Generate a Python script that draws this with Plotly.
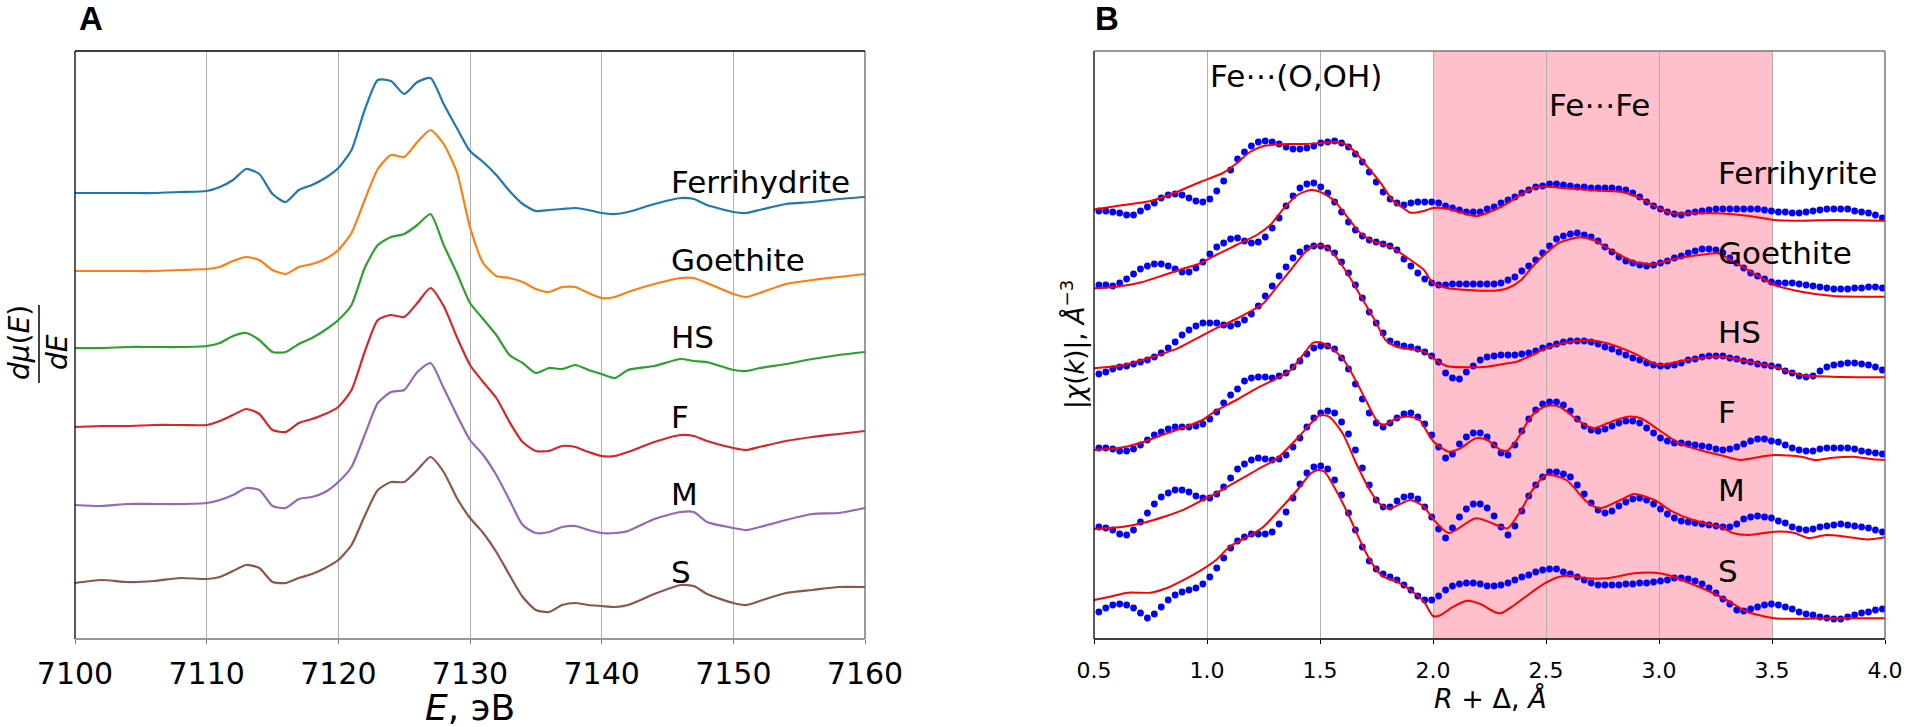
import numpy as np
import plotly.graph_objects as go

# ---------------- Panel A : derivative XANES (arbitrary units, stacked) ----------------
E_eV = [7100, 7102, 7104, 7106, 7108, 7110, 7111, 7112, 7113, 7114, 7115, 7116, 7117, 7118,
        7119, 7120, 7121, 7122, 7123, 7124, 7125, 7126, 7127, 7128, 7129, 7130, 7131, 7132,
        7133, 7134, 7135, 7136, 7137, 7138, 7139, 7140, 7141, 7142, 7144, 7146, 7147, 7148,
        7150, 7151, 7152, 7154, 7156, 7158, 7160]

dmu_ferrihydrite = [446, 446, 446, 446, 447, 448, 452, 459, 470, 465, 445, 437, 449, 454, 461, 471,
                    489, 529, 559, 558, 545, 557, 561, 535, 511, 488, 477, 464, 448, 435, 428, 429,
                    430, 431, 429, 426, 425, 427, 435, 441, 440, 434, 427, 426, 429, 435, 437, 440, 442]
dmu_goethite = [368, 368, 368, 368, 369, 370, 372, 378, 382, 379, 369, 365, 372, 375, 380, 389,
                406, 439, 470, 484, 482, 497, 509, 495, 467, 412, 376, 363, 361, 357, 350, 347,
                352, 352, 346, 341, 342, 347, 355, 361, 361, 356, 345, 342, 346, 355, 359, 362, 365]
dmu_hs = [291, 291, 292, 292, 292, 293, 296, 303, 306, 299, 287, 287, 295, 301, 309, 319,
          334, 371, 394, 402, 405, 414, 425, 394, 366, 336, 320, 304, 284, 276, 266, 271,
          270, 274, 269, 265, 261, 269, 273, 280, 278, 277, 269, 268, 271, 275, 280, 284, 287]
dmu_f = [212, 213, 213, 214, 214, 214, 218, 224, 230, 225, 209, 207, 216, 220, 225, 232,
         249, 287, 319, 324, 322, 336, 351, 333, 302, 274, 257, 241, 217, 197, 188, 188,
         193, 192, 187, 183, 183, 187, 197, 204, 203, 198, 191, 189, 192, 198, 202, 205, 208]
dmu_m = [134, 133, 135, 135, 135, 136, 139, 144, 151, 149, 133, 131, 140, 142, 147, 157,
         172, 204, 236, 247, 249, 267, 276, 251, 224, 199, 184, 164, 139, 114, 106, 107,
         112, 113, 109, 106, 106, 108, 120, 127, 127, 117, 111, 109, 112, 119, 125, 126, 131]
dmu_s = [56, 59, 57, 58, 61, 60, 62, 68, 74, 71, 57, 56, 61, 65, 71, 79,
         94, 123, 149, 157, 157, 169, 182, 167, 141, 121, 106, 87, 64, 42, 29, 27,
         34, 36, 34, 33, 32, 34, 45, 54, 53, 45, 36, 34, 38, 46, 49, 52, 52]

names_A = ["Ferrihydrite", "Goethite", "HS", "F", "M", "S"]
series_A = [dmu_ferrihydrite, dmu_goethite, dmu_hs, dmu_f, dmu_m, dmu_s]
colors_A = ["#1f77b4", "#ff7f0e", "#2ca02c", "#d62728", "#9467bd", "#8c564b"]
label_y_A = [457, 379, 302, 222, 145, 67]
ticks_A = [7100, 7110, 7120, 7130, 7140, 7150, 7160]

# ---------------- Panel B : |chi(R)| data (dots) and fits (lines) ----------------
R_grid = np.arange(17, 131) * np.pi / 102.4   # standard FT R-grid

chi_ferrihyrite = [428, 428, 427, 426, 424, 424, 428, 432, 436, 441,
                   444, 445, 444, 441, 438, 437, 440, 448, 458, 469,
                   480, 487, 493, 497, 498, 497, 495, 492, 490, 490,
                   491, 493, 496, 497, 498, 496, 492, 485, 477, 467,
                   457, 447, 440, 436, 434, 436, 437, 437, 437, 436,
                   433, 431, 429, 427, 427, 427, 430, 432, 436, 439,
                   442, 446, 449, 452, 453, 455, 455, 454, 453, 452,
                   452, 451, 451, 451, 451, 450, 449, 446, 442, 437,
                   433, 430, 427, 425, 424, 426, 427, 428, 429, 430,
                   430, 430, 430, 430, 430, 430, 429, 428, 427, 427,
                   426, 426, 427, 428, 429, 430, 430, 430, 430, 428,
                   427, 426, 424, 421]
chi_goethite = [354, 354, 353, 356, 360, 365, 370, 373, 375, 375,
                373, 370, 367, 367, 371, 377, 385, 392, 396, 400,
                401, 398, 396, 397, 402, 411, 421, 433, 443, 451,
                455, 456, 452, 446, 437, 427, 417, 409, 403, 399,
                397, 395, 393, 389, 380, 373, 366, 360, 356, 354,
                354, 355, 355, 355, 355, 355, 355, 355, 356, 359,
                362, 368, 373, 379, 386, 393, 400, 403, 405, 406,
                404, 402, 398, 392, 387, 382, 378, 376, 374, 373,
                374, 376, 378, 381, 383, 386, 388, 390, 390, 389,
                386, 381, 376, 371, 366, 363, 360, 357, 356, 356,
                356, 355, 354, 353, 352, 351, 350, 350, 350, 351,
                351, 352, 352, 351]
chi_hs = [265, 267, 270, 272, 273, 275, 277, 279, 282, 286,
          291, 297, 304, 309, 313, 316, 316, 316, 314, 313,
          315, 319, 325, 333, 343, 353, 363, 372, 381, 387,
          391, 393, 393, 391, 386, 377, 366, 354, 341, 327,
          316, 306, 298, 295, 293, 292, 290, 287, 283, 277,
          266, 261, 260, 267, 273, 279, 282, 283, 284, 284,
          284, 285, 286, 288, 291, 293, 295, 297, 298, 298,
          298, 297, 295, 292, 290, 287, 284, 281, 279, 276,
          274, 273, 273, 274, 276, 279, 280, 282, 283, 283,
          283, 281, 280, 278, 277, 275, 274, 273, 272, 268,
          266, 263, 262, 263, 268, 272, 274, 275, 276, 276,
          275, 274, 272, 269]
chi_f = [191, 191, 190, 188, 188, 190, 194, 199, 204, 207,
         210, 212, 212, 212, 213, 215, 220, 227, 236, 244,
         250, 258, 261, 262, 262, 261, 263, 266, 272, 278,
         285, 291, 293, 293, 290, 281, 270, 255, 240, 226,
         216, 212, 216, 221, 225, 226, 222, 215, 204, 192,
         181, 185, 195, 202, 206, 206, 202, 194, 186, 184,
         194, 208, 220, 229, 235, 237, 237, 234, 228, 220,
         213, 209, 208, 210, 213, 216, 218, 218, 216, 211,
         206, 201, 198, 196, 196, 195, 194, 193, 192, 190,
         189, 190, 192, 195, 198, 200, 200, 198, 197, 194,
         191, 189, 188, 188, 190, 191, 191, 191, 191, 190,
         188, 187, 186, 185]
chi_m = [112, 111, 109, 105, 104, 109, 117, 126, 135, 142,
         146, 149, 149, 147, 143, 141, 141, 145, 152, 161,
         170, 175, 179, 181, 180, 179, 180, 184, 192, 201,
         212, 221, 226, 228, 226, 217, 205, 189, 171, 154,
         139, 132, 132, 138, 142, 143, 140, 132, 122, 110,
         101, 111, 122, 130, 135, 135, 131, 123, 112, 104,
         113, 128, 143, 154, 162, 167, 167, 165, 162, 154,
         145, 136, 129, 126, 128, 133, 137, 140, 141, 139,
         135, 130, 125, 121, 118, 117, 116, 115, 114, 113,
         112, 112, 115, 120, 122, 123, 122, 121, 118, 116,
         112, 110, 109, 110, 112, 113, 114, 115, 114, 113,
         112, 111, 109, 107]
chi_s = [27, 31, 34, 35, 34, 31, 26, 21, 25, 32,
         39, 44, 47, 49, 51, 55, 62, 71, 81, 91,
         98, 102, 105, 105, 105, 107, 115, 127, 141, 155,
         166, 172, 173, 170, 159, 144, 126, 109, 92, 78,
         70, 65, 62, 59, 54, 49, 43, 39, 39, 43,
         49, 53, 55, 56, 56, 55, 53, 53, 54, 56,
         59, 62, 64, 67, 69, 70, 70, 67, 65, 62,
         59, 56, 54, 54, 54, 54, 55, 55, 56, 56,
         57, 58, 59, 61, 61, 60, 58, 55, 51, 46,
         40, 35, 29, 28, 30, 32, 34, 35, 34, 32,
         30, 27, 25, 24, 22, 21, 20, 20, 22, 24,
         26, 27, 29, 30]

fit_r_ferrihyrite = [0.5, 0.63, 0.75, 0.85, 0.97, 1.07, 1.13, 1.19, 1.25, 1.31, 1.37, 1.44, 1.52, 1.57,
                     1.62, 1.66, 1.71, 1.77, 1.82, 1.87, 1.9, 1.96, 2.0, 2.07, 2.19, 2.3, 2.44, 2.5,
                     2.59, 2.74, 2.83, 2.92, 3.0, 3.06, 3.14, 3.26, 3.4, 3.51, 3.63, 3.77, 4.0]
fit_ferrihyrite = [429.5, 434, 438, 445.5, 457, 466, 475.5, 487, 493, 494.5, 495, 495, 496.3, 497,
                   494, 485.7, 472.3, 455.7, 439, 430.7, 426.3, 428, 431, 430, 423, 432, 450.7, 452.3,
                   450.7, 448.3, 447.3, 440.7, 430.7, 425.7, 425.7, 425.7, 423, 419, 418.3, 419, 418.3]
fit_r_goethite = [0.5, 0.6, 0.71, 0.81, 0.9, 0.97, 1.04, 1.13, 1.22, 1.28, 1.34, 1.4, 1.46, 1.5, 1.56,
                  1.62, 1.68, 1.74, 1.81, 1.88, 1.96, 2.0, 2.07, 2.15, 2.27, 2.33, 2.39, 2.44, 2.5,
                  2.56, 2.65, 2.71, 2.8, 2.89, 2.98, 3.06, 3.18, 3.26, 3.33, 3.42, 3.51, 3.63, 3.77, 4.0]
fit_goethite = [350.7, 352.3, 356.7, 364, 370.7, 375.7, 384, 394, 404, 414, 430.7, 444, 449, 447.3, 439,
                422.3, 405.7, 397.3, 392.3, 382.3, 369, 356, 350.7, 349, 348.3, 350.7, 359, 372.3, 385.7,
                396.3, 401.7, 399, 387.3, 377.3, 375, 379.7, 384, 385.7, 377.3, 365.7, 354, 347.3, 343, 342.3]
fit_r_hs = [0.5, 0.63, 0.75, 0.87, 0.97, 1.04, 1.12, 1.19, 1.25, 1.31, 1.37, 1.43, 1.47, 1.52, 1.57,
            1.63, 1.69, 1.75, 1.79, 1.84, 1.9, 1.96, 2.0, 2.06, 2.15, 2.24, 2.33, 2.37, 2.44, 2.5,
            2.59, 2.68, 2.77, 2.89, 3.0, 3.12, 3.27, 3.4, 3.51, 3.63, 3.77, 4.0]
fit_hs = [270.7, 274, 281.7, 290.7, 302.3, 310.7, 319, 327.3, 335.7, 352.3, 369, 385.7, 393, 393, 382.3,
          362.3, 339, 315.7, 299, 292.3, 289.7, 287.3, 281, 273, 271.7, 272.3, 275.7, 277.3, 284, 290.7,
          296.3, 299, 295.7, 285.7, 274, 279, 282.3, 277.3, 272.3, 264, 262.3, 261.7]
fit_r_f = [0.5, 0.63, 0.72, 0.81, 0.9, 0.98, 1.04, 1.13, 1.22, 1.31, 1.37, 1.43, 1.47, 1.5, 1.54, 1.6,
           1.65, 1.71, 1.75, 1.78, 1.84, 1.9, 1.94, 2.0, 2.07, 2.12, 2.19, 2.24, 2.3, 2.33, 2.37, 2.44,
           2.5, 2.56, 2.65, 2.71, 2.77, 2.86, 2.92, 3.0, 3.09, 3.18, 3.27, 3.36, 3.45, 3.51, 3.63, 3.69,
           3.77, 3.86, 3.95, 4.0]
fit_f = [189, 191.7, 197.3, 204.7, 211.7, 219, 228.3, 239, 250.7, 260.7, 269, 285.7, 296.3, 296.7, 292.3,
         280.7, 262, 235.7, 219, 214, 220.7, 222.3, 219, 198, 187.3, 190.7, 200.7, 199, 189, 188.3, 199,
         224, 233, 232.3, 217.3, 210.7, 215.7, 222.3, 220.7, 209, 195.7, 189, 184, 179, 182.3, 184, 182.3,
         179, 181.3, 182.3, 179.7, 179]
fit_r_m = [0.5, 0.63, 0.72, 0.81, 0.9, 0.98, 1.04, 1.13, 1.22, 1.31, 1.4, 1.46, 1.5, 1.54, 1.6, 1.66,
           1.72, 1.77, 1.81, 1.9, 1.96, 2.0, 2.07, 2.19, 2.3, 2.33, 2.39, 2.44, 2.5, 2.59, 2.68, 2.74,
           2.83, 2.89, 2.98, 3.06, 3.15, 3.27, 3.33, 3.4, 3.51, 3.6, 3.66, 3.74, 3.83, 3.92, 4.0]
fit_m = [110, 112.3, 116.3, 122.3, 129.7, 139, 145.7, 157.3, 169, 180.7, 200.7, 215.7, 224, 222.3, 205.7,
         175.7, 149, 134, 130.7, 139, 132.3, 120, 106, 120.7, 112.3, 110.7, 129, 149, 164, 159, 137.3,
         130.7, 139, 145, 139, 127.3, 119, 112.3, 105.7, 104, 107.3, 106, 101, 104, 102.3, 99.5, 101.7]
fit_r_s = [0.5, 0.57, 0.65, 0.75, 0.82, 0.91, 0.98, 1.04, 1.1, 1.18, 1.25, 1.32, 1.4, 1.46, 1.49, 1.52,
           1.57, 1.63, 1.69, 1.74, 1.78, 1.84, 1.9, 1.96, 2.0, 2.03, 2.09, 2.15, 2.21, 2.27, 2.3, 2.36,
           2.44, 2.5, 2.56, 2.62, 2.68, 2.77, 2.89, 2.98, 3.04, 3.12, 3.21, 3.3, 3.39, 3.51, 3.63, 3.77, 4.0]
fit_s = [39, 42.3, 46.3, 46.3, 50.7, 60.7, 69.7, 79, 92.3, 102.3, 112.3, 129, 149, 165.7, 169, 167.3,
         149, 122.3, 92.3, 72.3, 62.3, 57.3, 49, 37.3, 23, 23.5, 32.3, 38.3, 35, 27.3, 25.7, 34,
         47.3, 56.3, 62.3, 63, 60.7, 60.7, 65.7, 66.3, 64, 57.3, 49, 39, 27.3, 20.7, 20.3, 20.7, 20.7]

names_B = ["Ferrihyrite", "Goethite", "HS", "F", "M", "S"]
data_B = [chi_ferrihyrite, chi_goethite, chi_hs, chi_f, chi_m, chi_s]
fits_B = [(fit_r_ferrihyrite, fit_ferrihyrite), (fit_r_goethite, fit_goethite), (fit_r_hs, fit_hs),
          (fit_r_f, fit_f), (fit_r_m, fit_m), (fit_r_s, fit_s)]
label_y_B = [466, 386, 307, 227, 149, 68]
ticks_B = [0.5, 1.0, 1.5, 2.0, 2.5, 3.0, 3.5, 4.0]

# ---------------- figure ----------------
W, H = 1911, 727
FONT = "DejaVu Sans"
dom_y = [(H - 639) / H, (H - 51) / H]
dom_xA = [75 / W, 865 / W]
dom_xB = [1094 / W, 1885 / W]

fig = go.Figure()

for name, vals, col in zip(names_A, series_A, colors_A):
    n = min(len(E_eV), len(vals))
    fig.add_trace(go.Scatter(x=E_eV[:n], y=vals[:n], mode="lines", name=name,
                             line=dict(color=col, width=2.2, shape="spline", smoothing=0.6),
                             xaxis="x", yaxis="y", showlegend=False, hoverinfo="skip"))

for name, vals, (fr, fv) in zip(names_B, data_B, fits_B):
    n = min(len(R_grid), len(vals))
    fig.add_trace(go.Scatter(x=R_grid[:n], y=vals[:n], mode="markers", name=name + " data",
                             marker=dict(color="#0000ff", size=6.8, line=dict(width=0)),
                             xaxis="x2", yaxis="y2", showlegend=False, hoverinfo="skip"))
    m = min(len(fr), len(fv))
    fig.add_trace(go.Scatter(x=fr[:m], y=fv[:m], mode="lines", name=name + " fit",
                             line=dict(color="#ff0000", width=2, shape="spline", smoothing=0.7),
                             xaxis="x2", yaxis="y2", showlegend=False, hoverinfo="skip"))

annotations = []
for name, yv in zip(names_A, label_y_A):
    annotations.append(dict(x=7145.1, y=yv, xref="x", yref="y", text=name, showarrow=False,
                            xanchor="left", yanchor="middle", font=dict(family=FONT, size=31, color="black")))
for name, yv in zip(names_B, label_y_B):
    annotations.append(dict(x=3.25, y=yv, xref="x2", yref="y2", text=name, showarrow=False,
                            xanchor="left", yanchor="middle", font=dict(family=FONT, size=31, color="black")))

annotations += [
    dict(x=1.394, y=563, xref="x2", yref="y2", text="Fe\u22ef(O,OH)", showarrow=False,
         xanchor="center", yanchor="middle", font=dict(family=FONT, size=31, color="black")),
    dict(x=2.735, y=534, xref="x2", yref="y2", text="Fe\u22efFe", showarrow=False,
         xanchor="center", yanchor="middle", font=dict(family=FONT, size=31, color="black")),
    # panel letters
    dict(x=77 / W, y=(H - 18) / H, xref="paper", yref="paper", text="<b>A</b>", showarrow=False,
         xanchor="left", yanchor="middle", font=dict(family="Liberation Sans", size=33, color="black")),
    dict(x=1093 / W, y=(H - 18) / H, xref="paper", yref="paper", text="<b>B</b>", showarrow=False,
         xanchor="left", yanchor="middle", font=dict(family="Liberation Sans", size=33, color="black")),
    # axis titles
    dict(x=470 / W, y=(H - 707) / H, xref="paper", yref="paper", text="<i>E</i>, эВ", showarrow=False,
         xanchor="center", yanchor="middle", font=dict(family=FONT, size=36, color="black")),
    dict(x=1490 / W, y=(H - 698) / H, xref="paper", yref="paper", text="<i>R</i> + Δ, <i>Å</i>",
         showarrow=False, xanchor="center", yanchor="middle", font=dict(family=FONT, size=27, color="black")),
    dict(x=1073 / W, y=(H - 345) / H, xref="paper", yref="paper",
         text="|<i>χ</i>(<i>k</i>)|, <i>Å</i><sup>−3</sup>", showarrow=False, textangle=-90,
         xanchor="center", yanchor="middle", font=dict(family=FONT, size=26, color="black")),
    # fraction d mu(E) / dE
    dict(x=19 / W, y=(H - 343) / H, xref="paper", yref="paper", text="<i>dμ</i>(<i>E</i>)",
         showarrow=False, textangle=-90, xanchor="center", yanchor="middle",
         font=dict(family=FONT, size=28, color="black")),
    dict(x=57 / W, y=(H - 352) / H, xref="paper", yref="paper", text="<i>dE</i>",
         showarrow=False, textangle=-90, xanchor="center", yanchor="middle",
         font=dict(family=FONT, size=28, color="black")),
]

shapes = [
    # pink Fe...Fe region
    dict(type="rect", xref="x2", yref="y2 domain", x0=2.0, x1=3.5, y0=0, y1=1,
         fillcolor="#ffc0cb", line=dict(width=0), layer="below"),
    # fraction bar
    dict(type="line", xref="paper", yref="paper", x0=39 / W, x1=39 / W,
         y0=(H - 305) / H, y1=(H - 383) / H, line=dict(color="black", width=1.5)),
]


def spines(xr, yr, colors):
    out = []
    left, right, top, bottom = colors
    out.append(dict(type="line", xref=xr + " domain", yref=yr + " domain", x0=0, x1=0, y0=0, y1=1,
                    line=dict(color=left, width=1.3), layer="above"))
    out.append(dict(type="line", xref=xr + " domain", yref=yr + " domain", x0=1, x1=1, y0=0, y1=1,
                    line=dict(color=right, width=1.3), layer="above"))
    out.append(dict(type="line", xref=xr + " domain", yref=yr + " domain", x0=0, x1=1, y0=1, y1=1,
                    line=dict(color=top, width=1.3), layer="above"))
    out.append(dict(type="line", xref=xr + " domain", yref=yr + " domain", x0=0, x1=1, y0=0, y1=0,
                    line=dict(color=bottom, width=1.3), layer="above"))
    return out


shapes += spines("x", "y", ("#000000", "#666666", "#000000", "#777777"))
shapes += spines("x2", "y2", ("#000000", "#666666", "#777777", "#000000"))

fig.update_layout(
    width=W, height=H, margin=dict(l=0, r=0, t=0, b=0, autoexpand=False),
    paper_bgcolor="white", plot_bgcolor="white", showlegend=False,
    font=dict(family=FONT, color="black"),
    xaxis=dict(domain=dom_xA, range=[7100, 7160], tickvals=ticks_A, ticktext=[str(t) for t in ticks_A],
               tickfont=dict(family=FONT, size=30, color="black"), showgrid=True, gridcolor="#b0b0b0",
               gridwidth=1, zeroline=False, showline=False, ticks="outside", ticklen=4,
               tickcolor="#777777", ticklabelstandoff=4, anchor="y", fixedrange=True, automargin=False),
    yaxis=dict(domain=dom_y, range=[0, 588], showgrid=False, zeroline=False, showticklabels=False,
               showline=False, ticks="", anchor="x", fixedrange=True, automargin=False),
    xaxis2=dict(domain=dom_xB, range=[0.5, 4.0], tickvals=ticks_B, ticktext=[f"{t:.1f}" for t in ticks_B],
                tickfont=dict(family=FONT, size=22, color="black"), showgrid=True, gridcolor="#b0b0b0",
                gridwidth=1, zeroline=False, showline=False, ticks="outside", ticklen=4,
                tickcolor="black", ticklabelstandoff=8, anchor="y2", fixedrange=True, automargin=False),
    yaxis2=dict(domain=dom_y, range=[0, 588], showgrid=False, zeroline=False, showticklabels=False,
                showline=False, ticks="", anchor="x2", fixedrange=True, automargin=False),
    annotations=annotations, shapes=shapes,
)

fig.write_html("out.html", config={"displayModeBar": False},
               post_script="document.body.style.margin='0';document.body.style.overflow='hidden';")
